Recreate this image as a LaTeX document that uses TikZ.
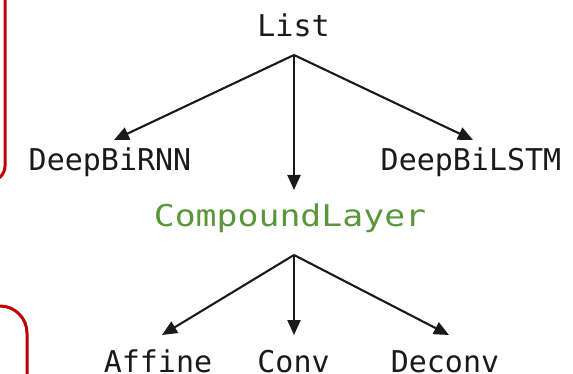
\documentclass[tikz,border=0pt]{standalone}
\usepackage{fontspec}
\setmonofont{DejaVu Sans Mono}
\usetikzlibrary{arrows.meta}
\definecolor{boxred}{HTML}{C00000}
\definecolor{lgreen}{HTML}{5A963C}
\definecolor{ink}{HTML}{1A1A1A}
\tikzset{
  lbl/.style={font=\fontsize{30}{36}\selectfont\ttfamily, text=ink, inner sep=0pt,
    text height=22pt, text depth=7pt, anchor=base},
  arr/.style={draw=ink, line width=2.1pt, -{Triangle[length=15pt,width=13pt]}},
  redbox/.style={draw=boxred, line width=3pt, rounded corners=#1},
}
\begin{document}
\begin{tikzpicture}[x=1pt,y=-1pt]
\useasboundingbox (0,0) rectangle (573,374);
% red boxes
\draw[redbox=15pt] (-40,-30) rectangle (5,181);
\draw[redbox=27pt] (-40,306) rectangle (27,420);
% nodes
\node[lbl, outer ysep=11pt] (list) at (293.5,37) {List};
\node[lbl, outer ysep=9pt] (rnn) at (110,171) {DeepBiRNN};
\node[lbl, outer ysep=9pt] (lstm) at (471,171) {DeepBiLSTM};
\node[lbl, text=lgreen, outer ysep=15pt] (cl) at (290,227) {\scalebox{1.16}[1]{CompoundLayer}};
\node[lbl, outer ysep=15pt] (aff) at (158,372) {Affine};
\node[lbl, outer ysep=15pt] (conv) at (293.5,372) {Conv};
\node[lbl, outer ysep=15pt] (dec) at (445,372) {Deconv};
% fork points
\coordinate (f1) at (294,55);
\coordinate (f2) at (294,255);
% connectors
\draw[arr] (f1) -- ([xshift=4pt]rnn.north);
\draw[arr] (f1) -- (f1 |- cl.north);
\draw[arr] (f1) -- ([xshift=2pt]lstm.north);
\draw[arr] (f2) -- ([xshift=4pt]aff.north);
\draw[arr] (f2) -- (f2 |- conv.north);
\draw[arr] (f2) -- ([xshift=4pt]dec.north);
\end{tikzpicture}
\end{document}
